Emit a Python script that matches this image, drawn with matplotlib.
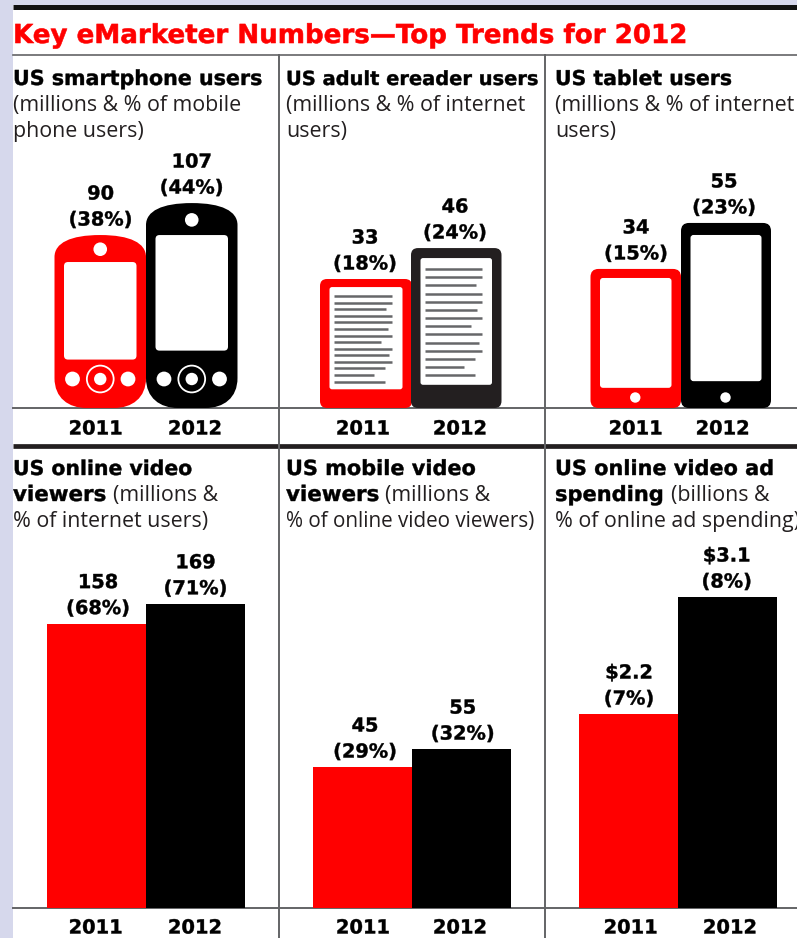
import matplotlib
matplotlib.use('Agg')
import matplotlib.pyplot as plt
import matplotlib.patheffects as pe
from matplotlib.patches import FancyBboxPatch, Circle, PathPatch, Rectangle
from matplotlib.path import Path

W, H = 797, 938
RED = '#ff0000'
INK = '#000000'
EREADER_INK = '#231f20'
RULE = '#636466'
BAND = '#d6d8ec'
BOLD = 'DejaVu Sans'
LIGHT = 'Open Sans'

title = 'Key eMarketer Numbers\u2014Top Trends for 2012'
years = ['2011', '2012']

smartphone_users = [90, 107]
smartphone_share = [38, 44]
ereader_users = [33, 46]
ereader_share = [18, 24]
tablet_users = [34, 55]
tablet_share = [15, 23]
video_viewers = [158, 169]
video_share = [68, 71]
mobile_viewers = [45, 55]
mobile_share = [29, 32]
ad_spend = [2.2, 3.1]
ad_share = [7, 8]

fig = plt.figure(figsize=(W / 100, H / 100), dpi=100, facecolor='white')
page = fig.add_axes([0, 0, 1, 1])
page.set_xlim(0, W)
page.set_ylim(H, 0)
page.axis('off')


def panel(x0, x1, y0, y1, lo, per_px):
    # x in page pixels, y in the panel's own units (per_px = units per pixel)
    ax = fig.add_axes([x0 / W, 1 - y1 / H, (x1 - x0) / W, (y1 - y0) / H])
    ax.set_xlim(x0, x1)
    ax.set_ylim(lo, lo + (y1 - y0) * per_px)
    ax.axis('off')
    ax.patch.set_alpha(0)
    return ax


def top_of(ax, v):
    return H - ax.transData.transform((0, v))[1]


def heavy(x, y, s, size, color=INK, ha='left', stroke=0.3):
    # DejaVu bold with a hairline outline to thicken the strokes a little
    t = page.text(x, y, s, ha=ha, family=BOLD, weight='bold', fontsize=size, color=color, zorder=8)
    t.set_path_effects([pe.Stroke(linewidth=stroke, foreground=color)])
    return t


def rbox(x0, y0, x1, y1, r, color, z=3):
    page.add_patch(FancyBboxPatch((x0 + r, y0 + r), x1 - x0 - 2 * r, y1 - y0 - 2 * r,
                                  boxstyle='round,pad=%f,rounding_size=%f' % (r, r),
                                  fc=color, ec='none', zorder=z))


def dot(x, y, r, color, z=5, **kw):
    page.add_patch(Circle((x, y), r, fc=color, ec=kw.get('ec', 'none'),
                          lw=kw.get('lw', 0), zorder=z))


def phone(x0, x1, top, base, color):
    h = base - top
    cx = (x0 + x1) / 2
    verts = [(x0, base - 30), (x0, top + 22), (x0, top + 8), (cx - 30, top), (cx, top),
             (cx + 30, top), (x1, top + 8), (x1, top + 22), (x1, base - 30),
             (x1, base - 10), (x1 - 14, base), (x1 - 32, base), (x0 + 32, base),
             (x0 + 14, base), (x0, base - 10), (x0, base - 30), (x0, base - 30)]
    codes = [Path.MOVETO, Path.LINETO, Path.CURVE4, Path.CURVE4, Path.CURVE4,
             Path.CURVE4, Path.CURVE4, Path.CURVE4, Path.LINETO,
             Path.CURVE4, Path.CURVE4, Path.CURVE4, Path.LINETO,
             Path.CURVE4, Path.CURVE4, Path.CURVE4, Path.CLOSEPOLY]
    page.add_patch(PathPatch(Path(verts, codes), fc=color, ec='none', zorder=3))
    rbox(x0 + 9.5, top + 0.156 * h, x1 - 9.5, top + 0.72 * h, 4, 'white', 4)
    dot(cx, top + 0.082 * h, 6.8, 'white')
    key_y = base - 29
    dot(x0 + 18, key_y, 7.4, 'white')
    dot(x1 - 18, key_y, 7.4, 'white')
    dot(cx, key_y, 13.4, 'none', ec='white', lw=1.3)
    dot(cx, key_y, 6.2, 'white')


line_runs = [1, 1, .89, 1, 1, .92, 1, .8, 1, .94, 1, .88, .68, .88]


def ereader(x0, x1, top, base, color):
    h = base - top
    rbox(x0, top, x1, base, 7, color)
    rbox(x0 + 9.5, top + 0.0625 * h, x1 - 9.5, base - 0.145 * h, 2.5, 'white', 4)
    first, last = top + 0.132 * h, base - 0.205 * h
    tx0, tx1 = x0 + 14, x1 - 19.5
    for i, run in enumerate(line_runs):
        y = first + (last - first) * i / (len(line_runs) - 1)
        page.plot([tx0, tx0 + (tx1 - tx0) * run], [y, y], color='#666769', lw=1.8,
                  solid_capstyle='butt', zorder=5)


def tablet(x0, x1, top, base, color):
    h = base - top
    rbox(x0, top, x1, base, 8, color)
    rbox(x0 + 9.5, top + 0.065 * h, x1 - 9.5, top + 0.855 * h, 3, 'white', 4)
    dot((x0 + x1) / 2 - 0.5, base - 10.5, 5.2, 'white')


def value_label(x, top, first, share):
    # two lines, 26 px apart, sitting just above the mark
    heavy(x, top - 35.5, first, 13.9, ha='center')
    heavy(x, top - 9.5, '(%d%%)' % share, 13.9, ha='center')


# page furniture
page.add_patch(Rectangle((0, 0), 13, H, fc=BAND, ec='none', zorder=1))
page.add_patch(Rectangle((13, 0), W - 13, 5, fc=BAND, ec='none', zorder=1))
page.plot([13, W], [7.5, 7.5], color='#111111', lw=3.6, solid_capstyle='butt', zorder=2)
page.plot([13, W], [55, 55], color=RULE, lw=1.2, zorder=2)
page.plot([13, W], [445.7, 445.7], color='#231f20', lw=3.4, solid_capstyle='butt', zorder=2)
for x in (279, 545.3):
    page.plot([x, x], [55, H], color=RULE, lw=1.4, zorder=2)
page.plot([13, W], [408, 408], color=RULE, lw=1.4, zorder=2)
page.plot([13, W], [908, 908], color=RULE, lw=1.4, zorder=2)

heavy(13, 43, title, 18.8, color=RED, stroke=0.4)

heads = [
    (13, 'US smartphone users', 14.85, '(millions & % of mobile', 'phone users)'),
    (286, 'US adult ereader users', 14.0, '(millions & % of internet', 'users)'),
    (555, 'US tablet users', 14.7, '(millions & % of internet', 'users)'),
]
for x, name, size, l2, l3 in heads:
    heavy(x, 85, name, size)
    page.text(x, 111, l2, family=LIGHT, fontsize=15.4, color='#231f20')
    page.text(x, 137, l3, family=LIGHT, fontsize=15.4, color='#231f20')

heads2 = [
    (13, 'US online video', 14.7, 'viewers', 15.4, 113, '(millions &', '% of internet users)', 15.4),
    (286, 'US mobile video', 15.0, 'viewers', 15.4, 385, '(millions &', '% of online video viewers)', 14.9),
    (555, 'US online video ad', 15.0, 'spending', 15.1, 671.5, '(billions &', '% of online ad spending)', 15.4),
]
for x, l1, s1, l2b, s2, x2, l2r, l3, s3 in heads2:
    heavy(x, 475, l1, s1)
    heavy(x, 501, l2b, s2)
    page.text(x2, 501, l2r, family=LIGHT, fontsize=15.4, color='#231f20')
    page.text(x, 527, l3, family=LIGHT, fontsize=s3, color='#231f20')

# top row: pictogram heights follow the values
ax_phone = panel(13, 279, 56, 408, -2, 1 / 1.88)
ax_read = panel(280, 545, 56, 408, -21.2, 1 / 2.38)
ax_tab = panel(546, W, 56, 408, -29.5, 1 / 2.19)

phone(54.5, 146, top_of(ax_phone, smartphone_users[0]), 408, RED)
phone(146, 237.5, top_of(ax_phone, smartphone_users[1]), 408, INK)
ereader(320, 412, top_of(ax_read, ereader_users[0]), 408, RED)
ereader(411, 501.5, top_of(ax_read, ereader_users[1]), 408, EREADER_INK)
tablet(590.5, 681, top_of(ax_tab, tablet_users[0]), 408, RED)
tablet(681, 771, top_of(ax_tab, tablet_users[1]), 408, INK)

label_x = [(100.5, 191.7), (365, 455), (636, 724)]
for xs, ax, vals, shares in zip(label_x, (ax_phone, ax_read, ax_tab),
                                (smartphone_users, ereader_users, tablet_users),
                                (smartphone_share, ereader_share, tablet_share)):
    for x, v, s in zip(xs, vals, shares):
        value_label(x, top_of(ax, v), str(v), s)

# bottom row: plain bars
bar_rows = [
    (panel(13, 279, 540, 908, 0, 1 / 1.8), (96.5, 195.5), (98, 195.5), video_viewers, video_share, '%d'),
    (panel(280, 545, 540, 908, -33.3, 1 / 1.8), (362.5, 461.5), (365, 462.7), mobile_viewers, mobile_share, '%d'),
    (panel(546, W, 540, 908, 0.708, 1 / 130), (628.5, 727.5), (629, 726.7), ad_spend, ad_share, '$%.1f'),
]
for ax, xs, lx, vals, shares, fmt in bar_rows:
    lo = ax.get_ylim()[0]
    ax.bar(xs, [v - lo for v in vals], bottom=lo, width=99, color=[RED, INK], linewidth=0)
    for x, v, s in zip(lx, vals, shares):
        value_label(x, top_of(ax, v), fmt % v, s)

year_x = [(95.7, 195), (363, 460), (635.7, 722.7), (95.7, 195), (363, 460), (630.7, 730)]
year_y = [434.5] * 3 + [933.5] * 3
for xs, y in zip(year_x, year_y):
    for x, yr in zip(xs, years):
        heavy(x, y, yr, 14, ha='center')

fig.savefig('out.png', dpi=100, facecolor='white')
